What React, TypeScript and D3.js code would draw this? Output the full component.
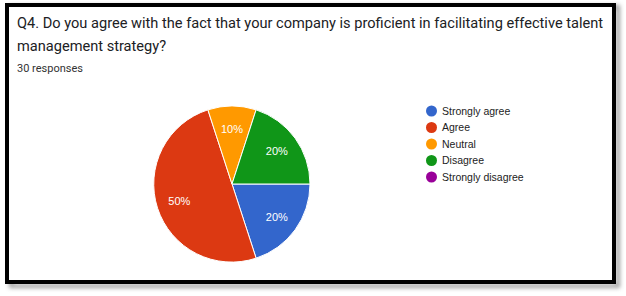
import React from "react";
import * as d3 from "d3";

const categories = ["Strongly agree", "Agree", "Neutral", "Disagree", "Strongly disagree"];
const percents = [20, 50, 10, 20, 0];
const colors = ["#3366cc", "#dc3912", "#ff9900", "#109618", "#990099"];
const titleLines = [
  "Q4. Do you agree with the fact that your company is proficient in facilitating effective talent",
  "management strategy?",
];
const subtitle = "30 responses";

export default function App() {
  const W = 626, H = 296;
  const cx = 232, cy = 184, r = 78;
  const pie = d3.pie<number>().sort(null).value((d) => d)
    .startAngle(Math.PI / 2).endAngle(Math.PI / 2 + 2 * Math.PI);
  const arcs = pie(percents);
  const arc = d3.arc<d3.PieArcDatum<number>>().innerRadius(0).outerRadius(r);
  const labelArc = d3.arc<d3.PieArcDatum<number>>().innerRadius(r * 0.71).outerRadius(r * 0.71);
  const legendY = d3.scaleLinear().domain([0, 1]).range([111, 127.5]);
  return (
    <div style={{ position: "fixed", left: 0, top: 0, width: W, height: H, background: "#fff" }}>
      <svg width={W} height={H} style={{ display: "block" }}>
        <defs>
          <filter id="sh" x="-5%" y="-5%" width="110%" height="115%">
            <feGaussianBlur stdDeviation="2" />
          </filter>
        </defs>
        <rect x={11} y={7} width={607} height={279} fill="none" stroke="#888" strokeWidth={4} filter="url(#sh)" opacity={0.8} />
        <rect x={7} y={5} width={607} height={277} fill="#fff" stroke="#000" strokeWidth={4} />
        <g fontFamily="Roboto, Arial, sans-serif" fill="#202124">
          {titleLines.map((t, i) => (
            <text key={i} x={17} y={28 + i * 22.7} fontSize={14.6}>{t}</text>
          ))}
          <text x={17} y={71.5} fontSize={11} fill="#333">{subtitle}</text>
        </g>
        <g transform={`translate(${cx},${cy})`}>
          {arcs.map((a, i) => a.value > 0 && (
            <path key={i} d={arc(a) || ""} fill={colors[i]} stroke="#fff" strokeWidth={1} />
          ))}
          {arcs.map((a, i) => a.value > 0 && (
            <text key={"l" + i} transform={`translate(${labelArc.centroid(a)})`} textAnchor="middle" dy="0.36em"
              fontFamily="Arial, 'Liberation Sans', sans-serif" fontSize={11} fill="#fff">{a.value}%</text>
          ))}
        </g>
        <g fontFamily="Arial, 'Liberation Sans', sans-serif" fontSize={10.5} fill="#222">
          {categories.map((c, i) => (
            <g key={c} transform={`translate(0,${legendY(i)})`}>
              <circle cx={431.5} cy={0} r={5.5} fill={colors[i]} />
              <text x={442} y={0} dy="0.36em">{c}</text>
            </g>
          ))}
        </g>
      </svg>
    </div>
  );
}
